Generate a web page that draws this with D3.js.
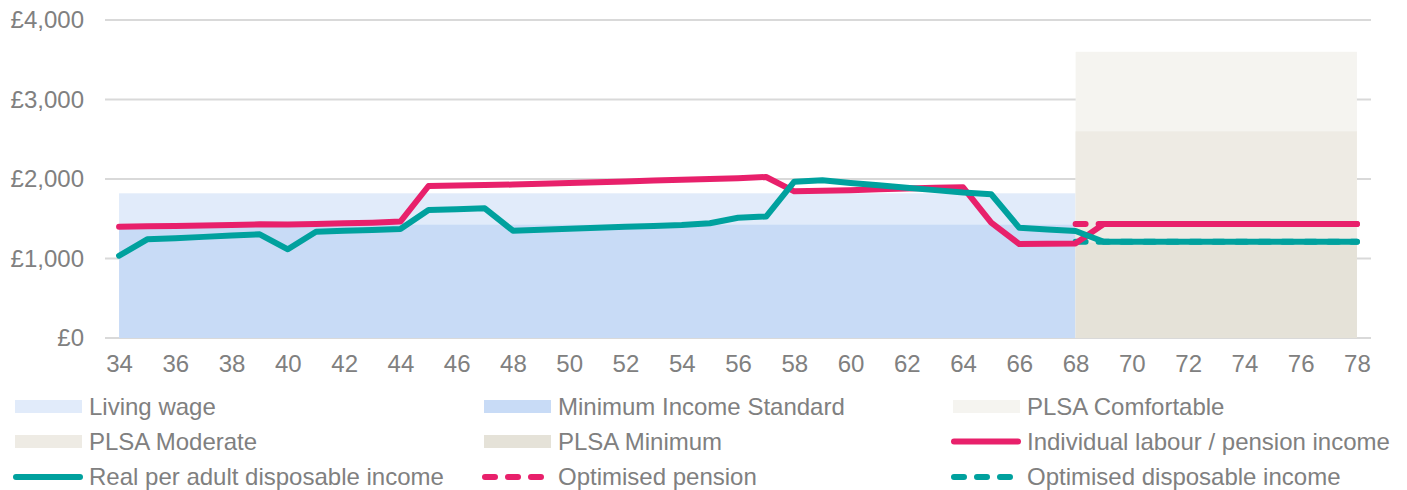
<!DOCTYPE html>
<html>
<head>
<meta charset="utf-8">
<script src="https://cdn.jsdelivr.net/npm/d3@7/dist/d3.min.js"></script>
<style>
  html, body { margin: 0; padding: 0; background: #ffffff; }
  svg { display: block; font-family: "Liberation Sans", Arial, sans-serif; }
</style>
</head>
<body>
<svg id="chart" width="1407" height="490"></svg>
<script>
// ---------- data ----------
const ages = d3.range(34, 79);
const yTicks = [0, 1000, 2000, 3000, 4000];
const xTickAges = d3.range(34, 79, 2);

// income standards (flat bands)
const livingWage = 1820;
const minimumIncomeStandard = 1425;
const workingAgeRange = [34, 68];
const plsaComfortable = 3600;
const plsaModerate = 2600;
const plsaMinimum = 1200;
const retirementRange = [68, 78];

// Individual labour / pension income, ages 34..78
const labourPensionIncome = [
  1400, 1405, 1410, 1415, 1420, 1430, 1428, 1435, 1442, 1450, 1465, // 34-44
  1912, 1918, 1925, 1930, 1940, 1950, 1960, 1970, 1980, 1990, 2000, 2010, 2025, // 45-57
  1845, 1852, 1860, 1870, 1880, 1890, 1895, // 58-64
  1450, 1182, 1186, 1190, // 65-68
  1434, 1434, 1434, 1434, 1434, 1434, 1434, 1434, 1434, 1434 // 69-78
];
// Real per adult disposable income, ages 34..78
const disposableIncome = [
  1035, 1241, 1256, 1272, 1288, 1304, 1116, 1337, 1349, 1360, 1371, // 34-44
  1610, 1620, 1631, 1350, 1362, 1374, 1386, 1398, 1410, 1422, 1443, 1512, 1528, // 45-57
  1966, 1985, 1950, 1920, 1890, 1860, 1830, 1808, // 58-65
  1386, 1366, 1346, // 66-68
  1211, 1211, 1211, 1211, 1211, 1211, 1211, 1211, 1211, 1211 // 69-78
];
// Optimised series, ages 68..78
const optimisedAges = d3.range(68, 79);
const optimisedPension = [1434, 1434, 1434, 1434, 1434, 1434, 1434, 1434, 1434, 1434, 1434];
const optimisedDisposable = [1211, 1211, 1211, 1211, 1211, 1211, 1211, 1211, 1211, 1211, 1211];

const legendLabels = [
  "Living wage", "Minimum Income Standard", "PLSA Comfortable",
  "PLSA Moderate", "PLSA Minimum", "Individual labour / pension income",
  "Real per adult disposable income", "Optimised pension", "Optimised disposable income"
];

// ---------- styles ----------
const C = {
  living: "#e1ebfa", mis: "#c8dbf6",
  comfortable: "#f5f4f0", moderate: "#eeebe4", minimum: "#e5e2d8",
  red: "#e8206b", teal: "#00a19e", grid: "#d9d9d9", text: "#808080"
};
const legendStyle = [
  {type: "rect", color: C.living}, {type: "rect", color: C.mis}, {type: "rect", color: C.comfortable},
  {type: "rect", color: C.moderate}, {type: "rect", color: C.minimum}, {type: "line", color: C.red},
  {type: "line", color: C.teal}, {type: "dash", color: C.red}, {type: "dash", color: C.teal}
];

const svg = d3.select("#chart");
const x = d3.scalePoint().domain(ages).range([105, 1371]).padding(0.5);
const y = d3.scaleLinear().domain([0, 4000]).range([338, 20]);

// gridlines
svg.append("g").selectAll("line").data(yTicks).join("line")
  .attr("x1", 105).attr("x2", 1371)
  .attr("y1", d => y(d)).attr("y2", d => y(d))
  .attr("stroke", C.grid).attr("stroke-width", 2);

// bands
function band(range, val, color) {
  svg.append("rect")
    .attr("x", x(range[0])).attr("width", x(range[1]) - x(range[0]))
    .attr("y", y(val)).attr("height", y(0) - y(val))
    .attr("fill", color);
}
band(workingAgeRange, livingWage, C.living);
band(workingAgeRange, minimumIncomeStandard, C.mis);
band(retirementRange, plsaComfortable, C.comfortable);
band(retirementRange, plsaModerate, C.moderate);
band(retirementRange, plsaMinimum, C.minimum);

// lines
const line = d3.line().x(d => x(d[0])).y(d => y(d[1]));
function drawLine(xs, vals, color, dashed) {
  const p = svg.append("path")
    .attr("d", line(xs.map((a, i) => [a, vals[i]])))
    .attr("fill", "none").attr("stroke", color).attr("stroke-width", 6)
    .attr("stroke-linejoin", "round").attr("stroke-linecap", "round");
  if (dashed) p.attr("stroke-dasharray", "10 13");
}
drawLine(optimisedAges, optimisedPension, C.red, true);
drawLine(optimisedAges, optimisedDisposable, C.teal, true);
drawLine(ages, labourPensionIncome, C.red, false);
drawLine(ages, disposableIncome, C.teal, false);

// axes labels
const yAxis = svg.append("g").attr("transform", "translate(84,0)")
  .call(d3.axisLeft(y).tickValues(yTicks).tickSize(0).tickPadding(0)
    .tickFormat(d => "£" + d3.format(",")(d)));
yAxis.select(".domain").remove();
yAxis.selectAll("text").attr("fill", C.text).attr("font-size", 24)
  .attr("font-family", "Liberation Sans, Arial, sans-serif");

const xAxis = svg.append("g").attr("transform", "translate(0,338)")
  .call(d3.axisBottom(x).tickValues(xTickAges).tickSize(0).tickPadding(17));
xAxis.select(".domain").remove();
xAxis.selectAll("text").attr("fill", C.text).attr("font-size", 24)
  .attr("font-family", "Liberation Sans, Arial, sans-serif");

// legend
const colX = [15, 484, 953];
const rowY = [406.5, 441.5, 477];
const lg = svg.append("g");
legendLabels.forEach((lab, i) => {
  const cx = colX[i % 3], cy = rowY[Math.floor(i / 3)];
  const st = legendStyle[i];
  if (st.type === "rect") {
    lg.append("rect").attr("x", cx).attr("y", cy - 6.5).attr("width", 67).attr("height", 13).attr("fill", st.color);
  } else {
    const l = lg.append("line").attr("x1", cx + 1).attr("x2", st.type === "dash" ? cx + 64 : cx + 65)
      .attr("y1", cy).attr("y2", cy)
      .attr("stroke", st.color).attr("stroke-width", 6).attr("stroke-linecap", "round");
    if (st.type === "dash") l.attr("stroke-dasharray", "10 13");
  }
  lg.append("text").attr("x", cx + 74).attr("y", cy).attr("dy", "0.35em")
    .attr("font-size", 24).attr("fill", C.text).text(lab);
});
</script>
</body>
</html>
